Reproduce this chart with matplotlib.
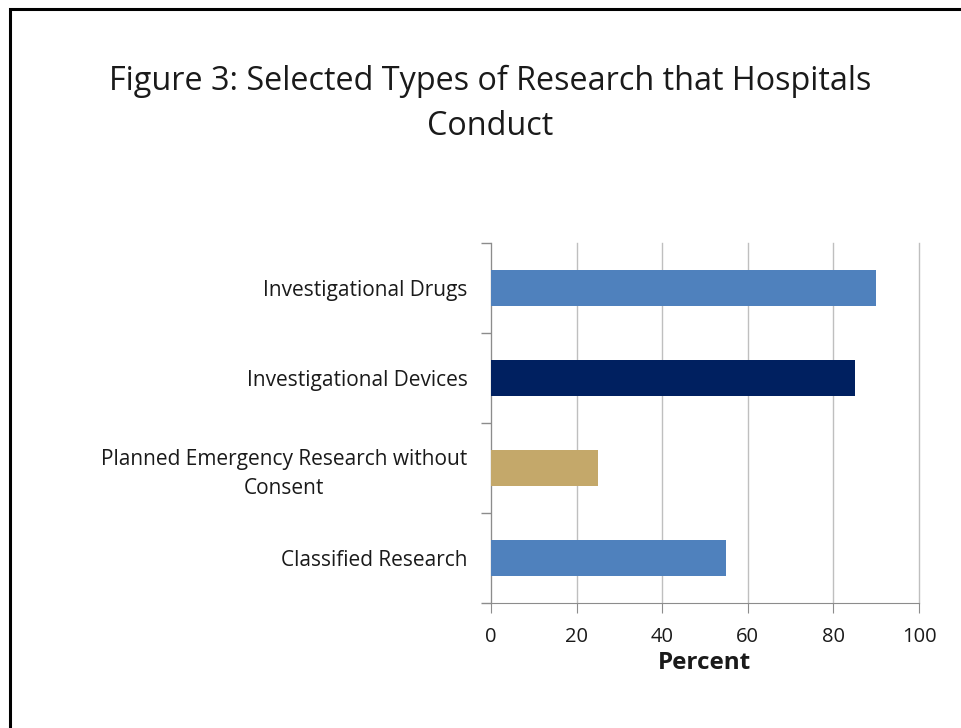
import matplotlib.pyplot as plt
from matplotlib.patches import Rectangle

plt.rcParams['font.family'] = ['Open Sans', 'DejaVu Sans']

# Share of hospitals conducting each type of research
categories = ["Investigational Drugs", "Investigational Devices",
              "Planned Emergency Research without\nConsent", "Classified Research"]
percent = [90, 85, 25, 55]
colors = ["#4F81BD", "#002060", "#C4A86A", "#4F81BD"]

fig = plt.figure(figsize=(9.61, 7.28), dpi=100)
ax = fig.add_axes([491 / 961, 1 - 603 / 728, 428 / 961, 360 / 728])

pos = list(range(len(categories)))
ax.barh(pos, percent, height=0.4, color=colors, zorder=3)
ax.set_ylim(len(categories) - 0.5, -0.5)
ax.set_xlim(0, 100)

# category boundaries get the tick marks, labels sit in between
ax.set_yticks([p - 0.5 for p in pos] + [len(categories) - 0.5])
ax.set_yticklabels([])
ax.set_yticks(pos, minor=True)
ax.set_yticklabels(categories, minor=True, fontsize=15, ha="right",
                   multialignment="center", linespacing=1.45, color="#1a1a1a")
ax.tick_params(axis="y", which="minor", length=0, pad=17)
ax.tick_params(axis="y", which="major", length=7, color="#8C8C8C", width=1)

ax.set_xticks([0, 20, 40, 60, 80, 100])
ax.tick_params(axis="x", length=7, color="#8C8C8C", labelsize=14.5, pad=10,
               labelcolor="#1a1a1a")
ax.grid(axis="x", color="#BFBFBF", linewidth=1, zorder=0)
for gl in ax.get_xgridlines():
    gl.set_clip_on(False)

for side in ["top", "right"]:
    ax.spines[side].set_visible(False)
for side in ["left", "bottom"]:
    ax.spines[side].set_color("#8C8C8C")

ax.set_xlabel("Percent", fontsize=17.5, fontweight="bold", labelpad=3,
              color="#1a1a1a")

fig.text(490 / 961, 1 - 104 / 728,
         "Figure 3: Selected Types of Research that Hospitals\nConduct",
         ha="center", va="center", fontsize=23.3, linespacing=1.5,
         color="#1a1a1a")

# outer frame
fig.patches.append(Rectangle((9.5 / 961, -0.1), 1.2, 1 - 9.5 / 728 + 0.1,
                             transform=fig.transFigure, fill=False,
                             edgecolor="black", linewidth=2.2))

fig.savefig("out.png", dpi=100)
